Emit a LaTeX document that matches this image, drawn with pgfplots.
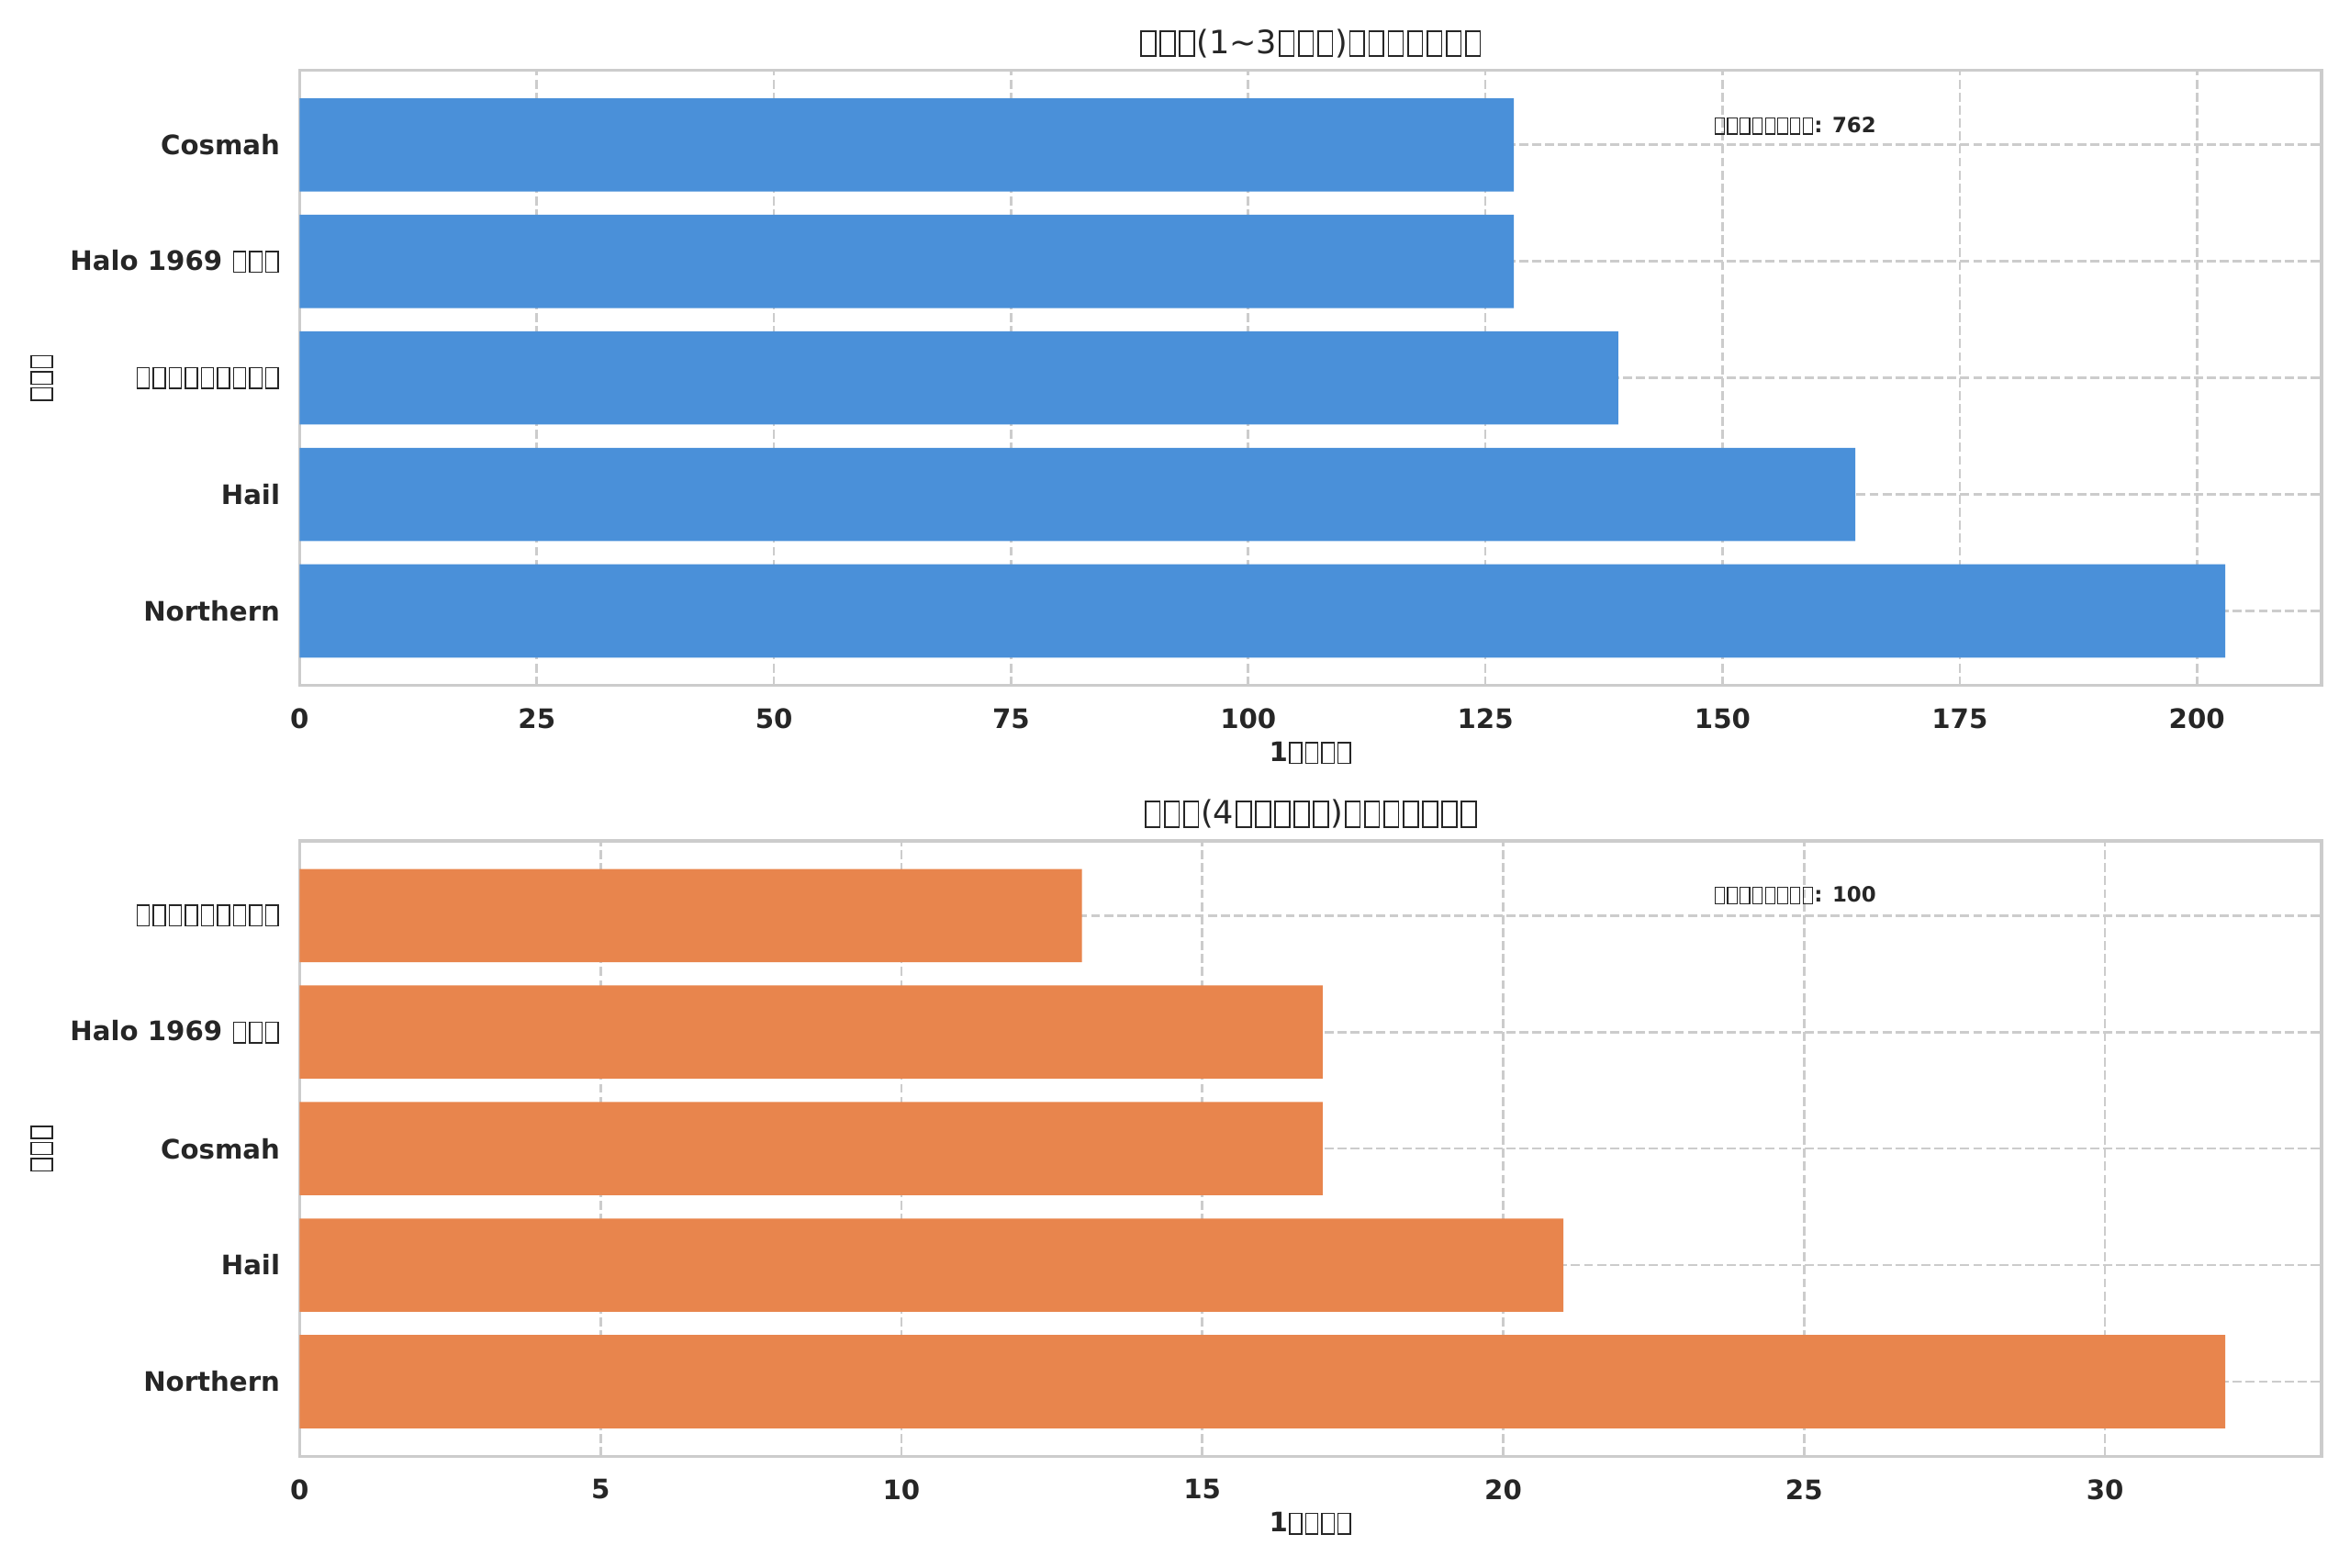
\documentclass[border=0pt]{standalone}
\usepackage{fontspec}
\setmainfont{DejaVu Sans}
\usepackage{pgfplots}
\pgfplotsset{compat=1.18}
\definecolor{barblue}{HTML}{4A90D9}
\definecolor{barorange}{HTML}{E8854D}
\definecolor{txt}{HTML}{262626}
\definecolor{gridc}{HTML}{CCCCCC}
\newcommand\tofu{\kern0.05em\raisebox{-0.06em}{\setlength\fboxsep{0pt}\setlength\fboxrule{0.05em}\fbox{\rule{0pt}{0.73em}\kern0.4em}}\kern0.05em}
\pgfplotsset{mystyle/.style={
  scale only axis, width=826bp, height=251.3bp,
  xbar, bar width=0.8, bar shift=0pt,
  ymin=-0.64, ymax=4.64, ytick={0,1,2,3,4},
  xmin=0,
  /pgf/number format/assume math mode=true,
  axis line style={gridc, line width=1.25bp},
  grid=major,
  major grid style={gridc, dash pattern=on 3.7bp off 1.6bp, line width=1bp},
  major tick length=0pt,
  tick style={draw=none},
  ticklabel style={font=\fontsize{11}{13}\selectfont\bfseries, text=txt},
  xticklabel style={yshift=-6bp},
  yticklabel style={xshift=-4.5bp},
  every axis title/.style={at={(rel axis cs:0.5,1)}, anchor=center, yshift=11bp, font=\fontsize{13.2}{15}\selectfont, text=txt},
  every axis x label/.style={at={(rel axis cs:0.5,0)}, anchor=center, yshift=-27.5bp, font=\fontsize{11}{13}\selectfont\bfseries, text=txt},
  every axis y label/.style={at={(rel axis cs:0,0.5)}, anchor=center, rotate=90, yshift=105.3bp, font=\fontsize{11}{13}\selectfont\bfseries, text=txt},
  xlabel={1\tofu\tofu\tofu\tofu},
  ylabel={\tofu\tofu\tofu},
  axis on top=false,
}}
\begin{document}
\begin{tikzpicture}
\useasboundingbox (0,0) rectangle (960bp,640.125bp);
\begin{axis}[mystyle,
  at={(122.4bp,360.1bp)}, anchor=south west,
  xmax=213.15, xtick={0,25,...,200},
  yticklabels={Northern, Hail, {\tofu\tofu\tofu\tofu\tofu\tofu\tofu\tofu\tofu}, {Halo 1969 \tofu\tofu\tofu}, Cosmah},
  title={\tofu\tofu\tofu(1\char"007E 3\tofu\tofu\tofu)\tofu\tofu\tofu\tofu\tofu\tofu\tofu},
]
\addplot[fill=barblue, draw=none] coordinates {(203,0) (164,1) (139,2) (128,3) (128,4)};
\node[anchor=west, inner sep=0pt, font=\fontsize{8.6}{10}\selectfont\bfseries, text=txt] at (rel axis cs:0.699,0.91) {\tofu\tofu\tofu\tofu\tofu\tofu\tofu\tofu: 762};
\end{axis}
\begin{axis}[mystyle,
  at={(122.4bp,45.3bp)}, anchor=south west,
  xmax=33.6, xtick={0,5,...,30},
  yticklabels={Northern, Hail, Cosmah, {Halo 1969 \tofu\tofu\tofu}, {\tofu\tofu\tofu\tofu\tofu\tofu\tofu\tofu\tofu}},
  title={\tofu\tofu\tofu(4\tofu\tofu\tofu\tofu\tofu)\tofu\tofu\tofu\tofu\tofu\tofu\tofu},
]
\addplot[fill=barorange, draw=none] coordinates {(32,0) (21,1) (17,2) (17,3) (13,4)};
\node[anchor=west, inner sep=0pt, font=\fontsize{8.6}{10}\selectfont\bfseries, text=txt] at (rel axis cs:0.699,0.912) {\tofu\tofu\tofu\tofu\tofu\tofu\tofu\tofu: 100};
\end{axis}
\end{tikzpicture}
\end{document}
